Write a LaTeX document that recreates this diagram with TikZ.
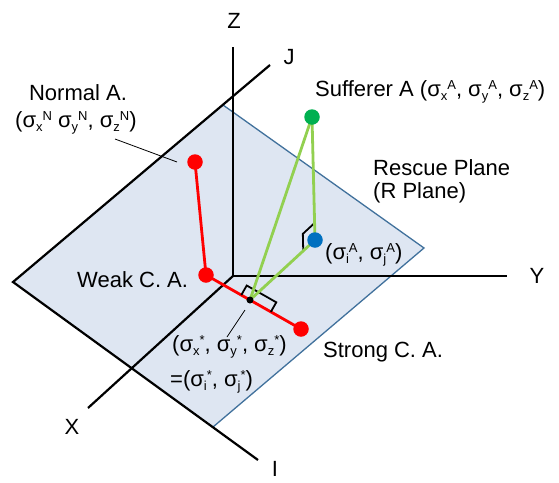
\documentclass[tikz,border=0pt]{standalone}
\usepackage{fontspec}
\setmainfont{Liberation Sans}
\usetikzlibrary{calc}
\newcommand\lo[1]{\raisebox{-4pt}{\fontsize{13}{13}\selectfont #1}}
\newcommand\hi[1]{\raisebox{7pt}{\fontsize{13}{13}\selectfont #1}}
\definecolor{planefill}{HTML}{DEE6F2}
\definecolor{planeedge}{HTML}{41719C}
\definecolor{lgreen}{HTML}{92D050}
\definecolor{dgreen}{HTML}{00B050}
\definecolor{dblue}{HTML}{0070C0}
\tikzset{
  axis/.style={black, line width=2.2pt},
  redline/.style={red, line width=2.8pt},
  greenline/.style={lgreen, line width=2.8pt},
  marker/.style={black, line width=1.8pt, line join=miter},
  leader/.style={black, line width=0.8pt},
  dot/.style={circle, inner sep=0pt, minimum size=15.5pt},
  lbl/.style={inner sep=0pt, font=\fontsize{22}{26}\selectfont},
}
\begin{document}
\begin{tikzpicture}[x=1pt, y=-1pt]
\useasboundingbox (0,0) rectangle (559,482);
% coordinates
\coordinate (O) at (233,276);
\coordinate (Zend) at (233,47);
\coordinate (Yend) at (507,276);
\coordinate (Xend) at (88,408);
\coordinate (L) at (13,282);
\coordinate (T) at (223,105);
\coordinate (R) at (424,248);
\coordinate (B) at (213,427);
\coordinate (Jend) at (270,65);
\coordinate (Iend) at (258,460);
\coordinate (pN) at (195,162);
\coordinate (pW) at (206,275);
\coordinate (pS) at (301,329);
\coordinate (pG) at (312,117);
\coordinate (pB) at (315,240);
\coordinate (pD) at ($(pW)!0.463!(pS)$);
% plane
\fill[planefill] (L) -- (T) -- (R) -- (B) -- cycle;
\draw[planeedge, line width=1.3pt] (T) -- (R) -- (B);
% axes
\draw[axis, line join=miter] (Jend) -- (L) -- (Iend);
\draw[axis] (O) -- (Zend);
\draw[axis] (O) -- (Yend);
\draw[axis] (O) -- (Xend);
% red lines
\draw[redline] (pN) -- (pW) -- (pS);
% right angle marker at the foot point
\coordinate (m1) at ($(pD)!10pt!(pW)$);
\coordinate (m2) at ($(m1)!11pt!90:(pD)$);
\coordinate (m4) at ($(pD)!24pt!(pS)$);
\coordinate (m3) at ($(m4)!11pt!-90:(pD)$);
\draw[marker] (m1) -- (m2) -- (m3) -- (m4);
% right angle marker at blue point
\coordinate (b1) at ($(pB)!17pt!(pG)$);
\coordinate (b3) at ($(pB)!16pt!(pD)$);
\coordinate (b2) at ($(b1)+(b3)-(pB)$);
\draw[marker] (b1) -- (b2) -- (b3);
% green lines
\draw[greenline] (pG) -- (pD);
\draw[greenline] (pG) -- (pB) -- (pD);
% dots
\node[dot, fill=red] (N) at (pN) {};
\node[dot, fill=red] (W) at (pW) {};
\node[dot, fill=red] (S) at (pS) {};
\node[dot, fill=dgreen] (G) at (pG) {};
\node[dot, fill=dblue] (Bl) at (pB) {};
\node[circle, fill=black, inner sep=0pt, minimum size=7pt] (D) at (pD) {};
% axis labels
\node[lbl] (Zl) at (234,21) {Z};
\node[lbl] (Jl) at (289,57) {J};
\node[lbl] (Yl) at (537,276) {Y};
\node[lbl] (Xl) at (72,427) {X};
\node[lbl] (Il) at (275,469) {I};
% labels
\node[lbl] (nA1) at (78,93) {Normal A.};
\node[lbl, anchor=west] (nA2) at (15,123) {(σ\lo{x}\hi{N} σ\lo{y}\hi{N}, σ\lo{z}\hi{N})};
\coordinate (nL) at (115,139);
\coordinate (nR) at (177,162);
\draw[leader] (nL) -- (nR);
\node[lbl, anchor=west] (sufA) at (315,92) {Sufferer A (σ\lo{x}\hi{A}, σ\lo{y}\hi{A}, σ\lo{z}\hi{A})};
\node[lbl, anchor=west] (rp1) at (373,168) {Rescue Plane};
\node[lbl, anchor=west] (rp2) at (373,193) {(R Plane)};
\node[lbl, anchor=west] (ija) at (325,255) {(σ\lo{i}\hi{A}, σ\lo{j}\hi{A})};
\node[lbl, anchor=west] (weak) at (77,280) {Weak C. A.};
\node[lbl, anchor=west] (strong) at (323,352) {Strong C. A.};
\node[lbl, anchor=west] (st1) at (172,347) {(σ\lo{x}\hi{*}, σ\lo{y}\hi{*}, σ\lo{z}\hi{*})};
\node[lbl, anchor=west] (st2) at (170,382) {=(σ\lo{i}\hi{*}, σ\lo{j}\hi{*})};
\coordinate (sL) at (245,310);
\coordinate (sR) at (227,337);
\draw[leader] (sL) -- (sR);
\end{tikzpicture}
\end{document}
